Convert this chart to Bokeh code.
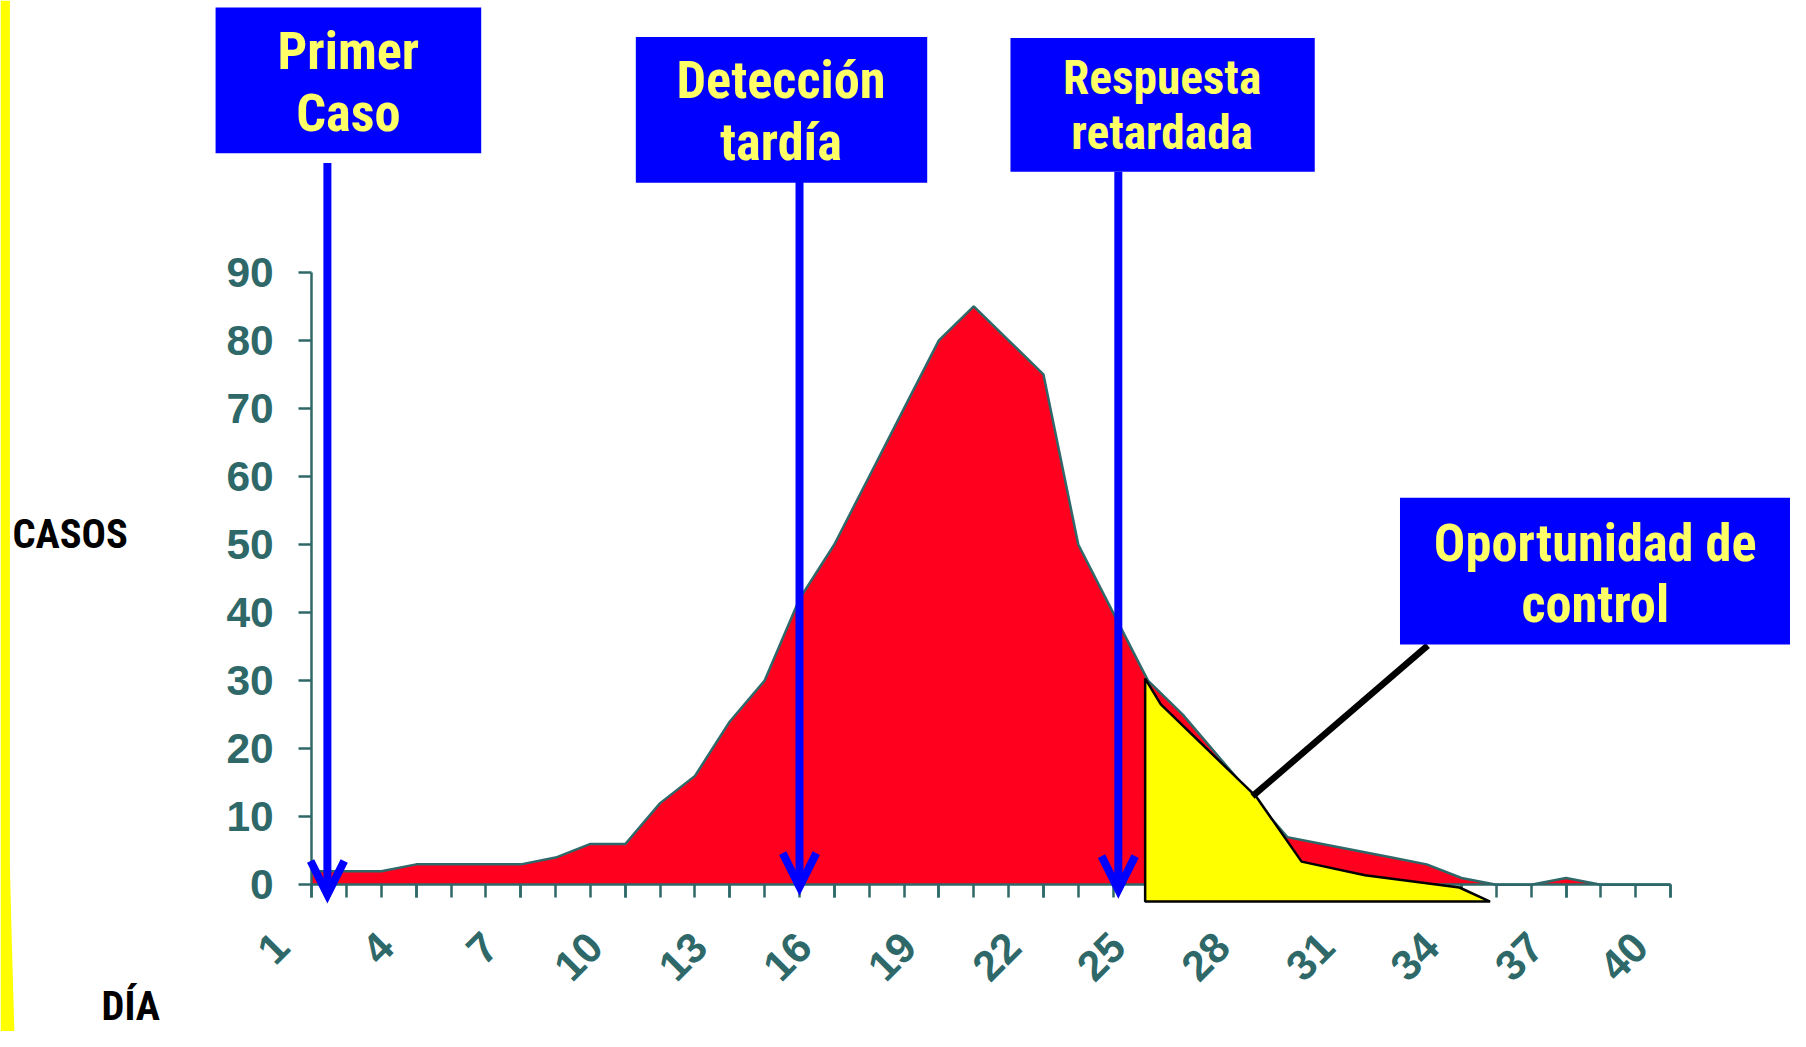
import glob
import math
import os
import subprocess

from bokeh.core.properties import value
from bokeh.embed import file_html
from bokeh.models import Arrow, FixedTicker, OpenHead, Range1d
from bokeh.plotting import figure
from bokeh.resources import INLINE

# ---------------- data ----------------
days = list(range(1, 41))
cases = [2, 2, 2, 3, 3, 3, 3, 4, 6, 6,
         12, 16, 24, 30, 42, 50, 60, 70, 80, 85,
         80, 75, 50, 40, 30, 25, 19, 13, 7, 6,
         5, 4, 3, 1, 0, 0, 1, 0, 0, 0]
y_ticks = [0, 10, 20, 30, 40, 50, 60, 70, 80, 90]
x_tick_days = [1, 4, 7, 10, 13, 16, 19, 22, 25, 28, 31, 34, 37, 40]

# "oportunidad de control" shape (day, cases)
control_days = [24.92, 25.37, 28.1, 29.41, 31.23, 33.94, 34.82, 24.92]
control_cases = [30.3, 26.5, 13.0, 3.4, 1.4, -0.4, -2.46, -2.46]

# days marked by the arrows
primer_day = 1.45
deteccion_day = 15.0
respuesta_day = 24.15

box_lines = [["Primer", "Caso"], ["Detección", "tardía"],
             ["Respuesta", "retardada"], ["Oportunidad de", "control"]]

# ---------------- layout helpers ----------------
REF_W, REF_H = 1806, 1047          # reference picture size
W, H = 1790, 1031                  # figure size (fits the window with its 8px margin)
FS = (W / REF_W + H / REF_H) / 2   # pixel-size scale
X0, DX = 314.0, 35.154             # reference pixel of day 1, pixels per day
Y0, DY = 898.0, 6.9111             # reference pixel of 0 cases, pixels per case


def xd(px):
    return 1 + (px - X0) / DX


def yd(py):
    return (Y0 - py) / DY


def sz(v):
    return v * FS


def have_font(names):
    try:
        out = subprocess.run(["fc-list", ":", "family"], capture_output=True,
                             text=True, timeout=10).stdout
        fams = set()
        for line in out.splitlines():
            for f in line.split(","):
                fams.add(f.strip())
        for n in names:
            if n in fams:
                return n
    except Exception:
        pass
    return None


def have_file(patterns):
    roots = ["/usr/share/fonts", "/usr/local/share/fonts",
             os.path.expanduser("~/.fonts"), os.path.expanduser("~/.local/share/fonts")]
    for r in roots:
        for pat in patterns:
            if glob.glob(os.path.join(r, "**", pat), recursive=True):
                return True
    return False


NARROW, NSCALE = "Liberation Sans", 0.82
if have_font(["Liberation Sans Narrow"]) or have_file(["LiberationSansNarrow-Bold*"]):
    NARROW, NSCALE = "Liberation Sans Narrow", 1.0
elif have_font(["Arial Narrow"]):
    NARROW, NSCALE = "Arial Narrow", 1.0
elif have_font(["Roboto Condensed"]) or have_file(["RobotoCondensed-Bold*"]):
    NARROW, NSCALE = "Roboto Condensed", 1.0

TEAL = "#2E6868"
RED = "#FF001E"
BLUE = "#0000FF"
TXT_YEL = "#FFFF66"

p = figure(width=W, height=H, output_backend="svg", toolbar_location=None,
           x_range=Range1d(xd(0), xd(REF_W)), y_range=Range1d(yd(REF_H), yd(0)),
           min_border=0)
p.outline_line_color = None
p.grid.visible = False
p.background_fill_color = "white"
p.border_fill_color = "white"

# yellow slide edge
p.patch([xd(0), xd(9.5), xd(9.5), xd(11.5), xd(14), xd(0)],
        [yd(0), yd(0), yd(880), yd(960), yd(REF_H), yd(REF_H)],
        fill_color="#FFFF00", line_color=None)

# epidemic curve
p.varea(x=days, y1=0, y2=cases, fill_color=RED)
p.line(days, cases, line_color=TEAL, line_width=2.5)

# axes
xa = p.xaxis[0]
xa.fixed_location = 0
xa.bounds = (1, 40)
xa.ticker = FixedTicker(ticks=x_tick_days, minor_ticks=days)
xa.major_label_overrides = {d: f"{d}\u2003" for d in x_tick_days}
xa.major_label_orientation = math.pi / 4
xa.major_label_standoff = round(sz(12))
ya = p.yaxis[0]
ya.fixed_location = 1
ya.bounds = (0, 90)
ya.ticker = FixedTicker(ticks=y_ticks, minor_ticks=[])
ya.major_label_standoff = round(sz(25))
for ax in (xa, ya):
    ax.axis_line_color = TEAL
    ax.axis_line_width = 2.5
    ax.major_tick_line_color = TEAL
    ax.minor_tick_line_color = TEAL
    ax.major_tick_line_width = 2.5
    ax.minor_tick_line_width = 2.5
    ax.major_tick_in = 0
    ax.major_tick_out = round(sz(13))
    ax.minor_tick_in = 0
    ax.minor_tick_out = round(sz(13))
    ax.major_label_text_font = "Liberation Sans"
    ax.major_label_text_font_style = "bold"
    ax.major_label_text_font_size = f"{sz(43):.1f}px"
    ax.major_label_text_color = TEAL

# opportunity of control
p.patch(control_days, control_cases, fill_color="#FFFF00", line_color="black",
        line_width=2.5, level="annotation")
p.line([days[27], xd(1440)], [cases[27], yd(655)], line_color="black",
       line_width=6.5, level="annotation")

# blue boxes
b_left = [217, 641, 1019, 1412]
b_right = [485, 935, 1326, 1812]
b_top = [7, 37, 38, 505]
b_bottom = [155, 185, 174, 654]
p.quad(left=[xd(v) for v in b_left], right=[xd(v) for v in b_right],
       top=[yd(v) for v in b_top], bottom=[yd(v) for v in b_bottom],
       fill_color=BLUE, line_color=None, level="annotation")

# box texts: baselines in reference pixels, drawn with a "middle" anchor
centers = [351, 787.5, 1172, 1609]
base1 = [70, 100, 96, 570]
base2 = [133, 163, 152, 632]
sizes = [53, 53, 48, 53]
for i in range(4):
    fpx = sizes[i] * NSCALE
    mid = 0.36 * sizes[i]
    p.text(x=[xd(centers[i])] * 2, y=[yd(base1[i] - mid), yd(base2[i] - mid)],
           text=box_lines[i], text_font=value(NARROW), text_font_style="bold",
           text_font_size=f"{sz(fpx):.1f}px", text_color=TXT_YEL,
           text_align="center", text_baseline="middle", level="annotation")

# axis titles
t_size = 41
p.text(x=[xd(12)], y=[yd(557 - 0.36 * t_size)], text=["CASOS"], text_font=value(NARROW),
       text_font_style="bold", text_font_size=f"{sz(t_size * NSCALE):.1f}px",
       text_color="black", text_align="left", text_baseline="middle")
p.text(x=[xd(102)], y=[yd(1036 - 0.36 * t_size)], text=["DÍA"], text_font=value(NARROW),
       text_font_style="bold", text_font_size=f"{sz(t_size * NSCALE):.1f}px",
       text_color="black", text_align="left", text_baseline="middle")

# arrows
arrow_specs = [(primer_day, 165, 908), (deteccion_day, 184, 900), (respuesta_day, 174, 903)]
for d, top_px, tip_px in arrow_specs:
    p.add_layout(Arrow(end=OpenHead(size=sz(34), line_width=8, line_color=BLUE, line_join="miter"),
                       x_start=d, y_start=yd(top_px), x_end=d, y_end=yd(tip_px),
                       line_width=8, line_color=BLUE))

open("out.html", "w").write(file_html(p, INLINE))
